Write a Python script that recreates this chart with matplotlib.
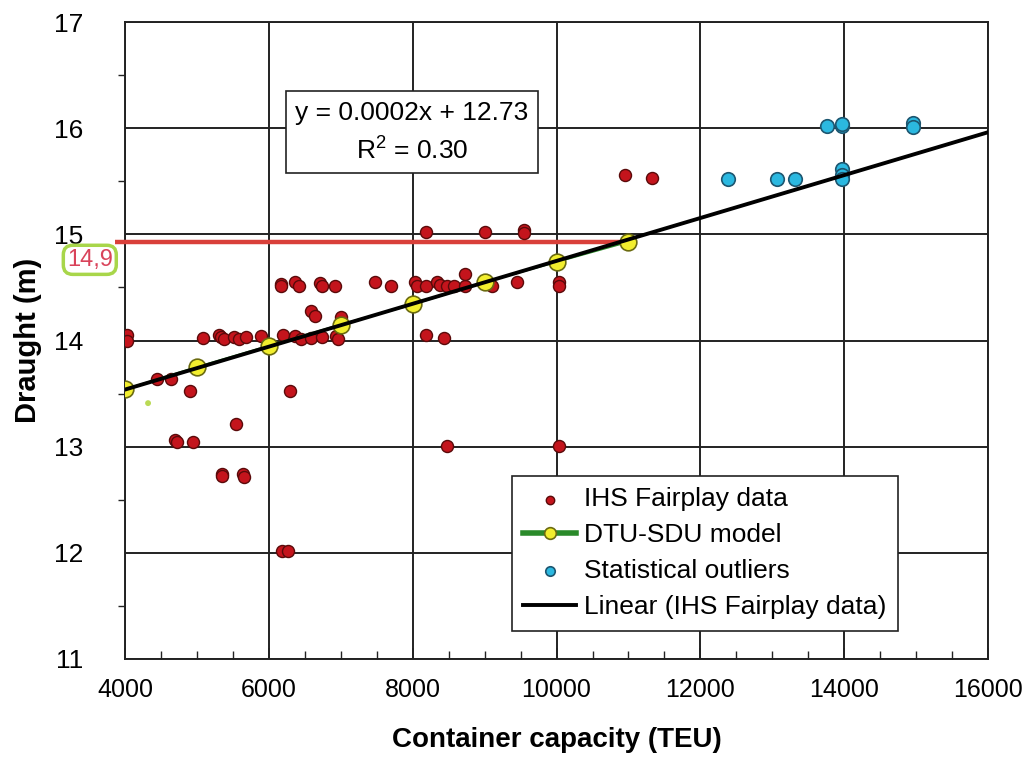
import numpy as np
import matplotlib
matplotlib.use("Agg")
import matplotlib.pyplot as plt
from matplotlib.ticker import MultipleLocator

plt.rcParams['font.family'] = ['Liberation Sans', 'DejaVu Sans']

# IHS Fairplay vessels: capacity (TEU) and draught (m)
fair_teu = [4030, 4030, 5080, 5300, 5330, 5370, 5510, 5580, 5680, 5890, 6190, 6360,
            6440, 6590, 6740, 6940, 6960, 7000,
            6170, 6170, 6365, 6420, 6710, 6740, 6920, 6590, 6640,
            4450, 4640, 4900, 6300, 5540, 4690, 4720, 4940, 5350, 5350, 5640, 5650,
            6180, 6270,
            8180, 9010, 9550, 9550, 7480, 7700, 8030, 8060, 8190, 8340, 8380, 8470,
            8580, 8720, 8720, 9100, 9450, 10030, 10040, 8180, 8430, 10950, 11330,
            8470, 10040]
fair_draught = [14.05, 14.00, 14.02, 14.05, 14.03, 14.01, 14.03, 14.01, 14.03, 14.04, 14.05, 14.04,
                14.01, 14.02, 14.03, 14.04, 14.01, 14.22,
                14.53, 14.51, 14.55, 14.51, 14.54, 14.51, 14.51, 14.28, 14.23,
                13.64, 13.64, 13.52, 13.52, 13.21, 13.06, 13.04, 13.04, 12.74, 12.72, 12.74, 12.71,
                12.02, 12.02,
                15.02, 15.02, 15.04, 15.01, 14.55, 14.51, 14.55, 14.51, 14.51, 14.55, 14.52, 14.51,
                14.51, 14.51, 14.63, 14.51, 14.55, 14.55, 14.51, 14.05, 14.02, 15.56, 15.53,
                13.01, 13.01]

# outliers left out of the fit
out_teu = [12380, 13060, 13310, 13760, 13970, 13970, 13970, 13970, 13970, 14960, 14960]
out_draught = [15.52, 15.52, 15.52, 16.02, 16.02, 16.04, 15.62, 15.56, 15.52, 16.05, 16.01]

# DTU-SDU model
dtu_teu = [4000, 5000, 6000, 7000, 8000, 9000, 10000, 11000]
dtu_draught = [13.54, 13.75, 13.95, 14.15, 14.34, 14.55, 14.74, 14.93]

stray_teu = [4320]
stray_draught = [13.41]

slope = 0.000202
intercept = 12.73
r2 = 0.30

fig = plt.figure(figsize=(10.3, 7.73), dpi=100)
ax = fig.add_axes([0.1214, 0.1475, 0.8379, 0.824])

ax.set_xlim(4000, 16000)
ax.set_ylim(11, 17)
ax.xaxis.set_major_locator(MultipleLocator(2000))
ax.xaxis.set_minor_locator(MultipleLocator(500))
ax.yaxis.set_major_locator(MultipleLocator(1))
ax.yaxis.set_minor_locator(MultipleLocator(0.5))
ax.grid(True, which='major', color='#222222', lw=1.4)
ax.set_axisbelow(True)
for s in ax.spines.values():
    s.set_color('#222222')
    s.set_linewidth(1.4)

ax.tick_params(axis='x', which='both', direction='in', labelsize=18, pad=14, color='#222222')
ax.tick_params(axis='x', which='major', length=8, width=1.2)
ax.tick_params(axis='x', which='minor', length=6, width=1.0)
ax.tick_params(axis='y', which='both', direction='out', labelsize=19, pad=30, color='#222222')
ax.tick_params(axis='y', which='major', length=0)
ax.tick_params(axis='y', which='minor', length=5, width=1.0)

ax.set_xlabel('Container capacity (TEU)', fontsize=20, fontweight='bold', labelpad=18)
ax.set_ylabel('Draught (m)', fontsize=21, fontweight='bold', labelpad=9)

# red reference line at the model draught for 11000 TEU
ref = dtu_draught[-1]
ax.plot([3860, dtu_teu[-1]], [ref, ref], color='#d9403a', lw=3.2, clip_on=False, zorder=3,
        solid_capstyle='butt')
ax.text(3510, ref - 0.17, f"{ref:.1f}".replace('.', ','), color='#d9435a', fontsize=17,
        ha='center', va='center', clip_on=False,
        bbox=dict(boxstyle='round,pad=0.15,rounding_size=0.4', fc='white', ec='#a8d64a', lw=2.5))

ax.scatter(fair_teu, fair_draught, s=75, c='#c4141c', edgecolors='#5a0a0a', linewidths=1.0,
           zorder=4, label='IHS Fairplay data')
ax.plot(dtu_teu, dtu_draught, color='#2a8a2a', lw=1.5, marker='o', ms=12, mfc='#f2ee2e',
        mec='#6b6b10', mew=1.2, zorder=5, label='DTU-SDU model')
ax.scatter(out_teu, out_draught, s=95, c='#2bb8e0', edgecolors='#1d5670', linewidths=1.2,
           zorder=4, label='Statistical outliers')
ax.scatter(stray_teu, stray_draught, s=18, c='#bada55', edgecolors='none', zorder=4)

fit_x = np.array([4000, 16000])
ax.plot(fit_x, slope * fit_x + intercept, color='black', lw=2.8, zorder=6,
        label='Linear (IHS Fairplay data)')

ax.text(7990, 15.96, f"y = {slope:.4f}x + {intercept:.2f}\n$\\mathregular{{R^2}}$ = {r2:.2f}",
        fontsize=19, ha='center', va='center', linespacing=1.55, zorder=7,
        bbox=dict(boxstyle='square,pad=0.35', fc='white', ec='#222222', lw=1.2))

handles, labels = ax.get_legend_handles_labels()
order = [labels.index(l) for l in ['IHS Fairplay data', 'DTU-SDU model',
                                   'Statistical outliers', 'Linear (IHS Fairplay data)']]
leg = ax.legend([handles[i] for i in order], [labels[i] for i in order],
                loc='lower right', bbox_to_anchor=(0.896, 0.044), fontsize=19,
                frameon=True, fancybox=False, edgecolor='#222222', framealpha=1,
                handlelength=2.0, handletextpad=0.3, borderpad=0.45, labelspacing=0.45,
                markerscale=0.7, borderaxespad=0)
leg.get_frame().set_linewidth(1.2)
leg.legend_handles[1].set_linewidth(4)

fig.savefig('out.png', dpi=100, facecolor='white')
